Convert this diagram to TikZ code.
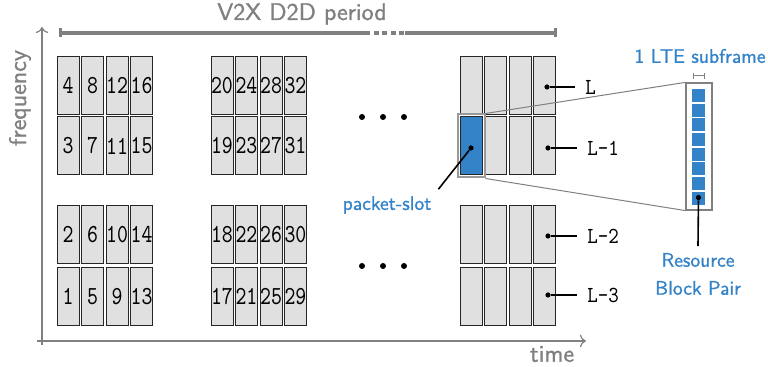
\documentclass[tikz,border=0pt]{standalone}
\usepackage{fontspec}
\usetikzlibrary{arrows.meta}
\newfontfamily\labelsf{lmsans10-regular.otf}[FakeBold=1.2]
\newfontfamily\celltt{lmmono10-regular.otf}[FakeStretch=0.8]
\newfontfamily\lbltt{lmmono10-regular.otf}[FakeStretch=0.87]
\definecolor{slotblue}{RGB}{52,131,201}
\definecolor{axisgray}{RGB}{128,128,128}
\definecolor{cellgray}{RGB}{224,224,224}
\tikzset{
  cell/.style={draw=black!85, fill=cellgray, line width=0.5pt, minimum width=11pt,
    minimum height=29pt, inner sep=0pt, font=\celltt\fontsize{13}{14}\selectfont},
  rbsquare/.style={fill=slotblue, minimum width=6.5pt, minimum height=6.5pt, inner sep=0pt},
  lbl/.style={font=\lbltt\fontsize{11.5}{12}\selectfont, anchor=west, inner ysep=0pt, inner xsep=5pt},
  bluetext/.style={text=slotblue, font=\labelsf\fontsize{9.8}{14}\selectfont},
  graytext/.style={text=axisgray, font=\labelsf\fontsize{12}{13}\selectfont},
  leader/.style={line width=0.8pt},
  dot/.style={circle, fill=black, inner sep=0pt, minimum size=2.6pt},
  axis/.style={draw=axisgray, line width=0.6pt, -{To[length=3pt]}},
  period/.style={draw=axisgray, line width=2pt},
  zoomline/.style={draw=axisgray, line width=0.5pt},
}
\begin{document}
\begin{tikzpicture}[x=0.5pt, y=-0.5pt]
  \useasboundingbox (0,0) rectangle (768,367);
  % axes
  \draw[axis] (42,345) -- (42,27);
  \draw[axis] (37,341) -- (586,341);
  \node[graytext, rotate=90] (freq) at (20,98) {frequency};
  \node[graytext] (time) at (552,354) {time};
  % period bar
  \node[graytext] (period) at (302,14) {V2X D2D period};
  \coordinate (p0) at (59,33);
  \coordinate (p1) at (365,33);
  \coordinate (p2) at (405,33);
  \coordinate (p3) at (557,33);
  \draw[period, {Bar[width=4.5pt,line width=1.5pt]}-] (p0) -- (p1);
  \draw[period, dash pattern=on 2.5pt off 1.8pt] (p1) -- (p2);
  \draw[period, -{Bar[width=4.5pt,line width=1.5pt]}] (p2) -- (p3);
  % numbered packet-slots
  \foreach \g/\gx in {0/68,1/222}
    \foreach \c in {0,...,3}
      \foreach \r/\ry in {0/296.5,1/234.5,2/146,3/85.5}{
        \pgfmathtruncatemacro{\num}{16*\g+4*\c+\r+1}
        \node[cell] (c\g\c\r) at (\gx+24.5*\c,\ry) {\num};
      }
  % last group
  \foreach \c in {0,...,3}
    \foreach \r/\ry in {0/296.5,1/234.5,2/146,3/85.5}
      \node[cell] (c2\c\r) at (471+24.5*\c,\ry) {};
  % dots
  \foreach \i/\dx in {1/362,2/383,3/404}{
    \node[dot, minimum size=3pt] (ut\i) at (\dx,117) {};
    \node[dot, minimum size=3pt] (lt\i) at (\dx,266) {};
  }
  % highlighted packet-slot
  \node[draw=black!40, line width=1pt, minimum width=13.5pt, minimum height=31.5pt,
    inner sep=0pt] (hl) at (c202) {};
  \node[cell, fill=slotblue] (slot) at (c202) {};
  % one LTE subframe
  \node[draw=axisgray, line width=0.6pt, minimum width=13pt, minimum height=63.5pt,
    inner sep=0pt] (rbbox) at (699,146.5) {};
  \foreach \k in {0,...,7}
    \node[rbsquare] (rb\k) at (698.5,95.5+14.7*\k) {};
  \draw[zoomline] (hl.north east) -- (rbbox.north west);
  \draw[zoomline] (hl.south east) -- (rbbox.south west);
  \coordinate (s0) at (693,76);
  \coordinate (s1) at (705,76);
  \draw[axisgray, line width=0.5pt, {Bar[width=3pt]}-{Bar[width=3pt]}] (s0) -- (s1);
  \node[bluetext] (subframe) at (700,56) {1 LTE subframe};
  % labels
  \node[lbl] (lL) at (575,87) {L};
  \node[lbl] (lL1) at (577,148) {L-1};
  \node[lbl] (lL2) at (577,236) {L-2};
  \node[lbl] (lL3) at (577,295) {L-3};
  \node[dot] (d3) at (547,87) {};
  \node[dot] (d2) at (548,148) {};
  \node[dot] (d1) at (548,236) {};
  \node[dot] (d0) at (548,295) {};
  \draw[leader] (d3) -- (lL.west);
  \draw[leader] (d2) -- (lL1.west);
  \draw[leader] (d1) -- (lL2.west);
  \draw[leader] (d0) -- (lL3.west);
  \node[bluetext] (pslot) at (387,205) {packet-slot};
  \node[dot] (ds) at (471,148) {};
  \draw[leader] (ds) -- (pslot.north east);
  \node[bluetext, align=center] (rbpair) at (698,274) {Resource\\Block Pair};
  \node[dot] (drb) at (698.5,197.5) {};
  \draw[leader] (drb) -- (rbpair.north);
\end{tikzpicture}
\end{document}
